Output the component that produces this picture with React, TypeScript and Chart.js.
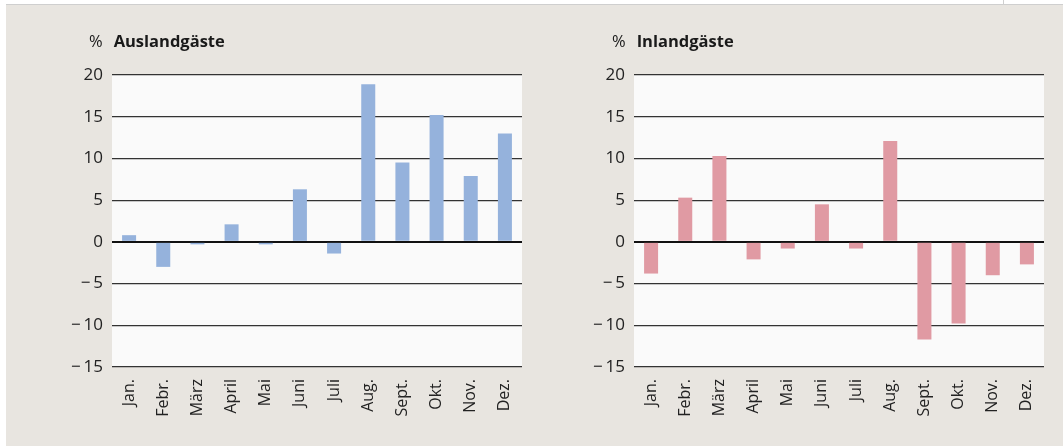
import React, { useEffect, useRef } from "react";
import { Chart, registerables } from "chart.js";

Chart.register(...registerables);

const months = ["Jan.", "Febr.", "März", "April", "Mai", "Juni", "Juli", "Aug.", "Sept.", "Okt.", "Nov.", "Dez."];
const auslandValues = [0.8, -3.0, -0.3, 2.1, -0.3, 6.3, -1.4, 18.9, 9.5, 15.2, 7.9, 13.0];
const inlandValues = [-3.8, 5.3, 10.3, -2.1, -0.8, 4.5, -0.8, 12.1, -11.7, -9.8, -4.0, -2.7];
const yTicks = [-15, -10, -5, 0, 5, 10, 15, 20];

const FONT = "'Open Sans', 'Noto Sans', sans-serif";
const BG = "#E8E5E0";
const PLOT_BG = "#FAFAFA";

const plotBgPlugin = {
  id: "plotBg",
  beforeDraw(chart: any) {
    const { ctx, chartArea } = chart;
    if (!chartArea) return;
    ctx.save();
    ctx.fillStyle = PLOT_BG;
    ctx.fillRect(chartArea.left, chartArea.top, chartArea.right - chartArea.left, chartArea.bottom - chartArea.top);
    ctx.restore();
  },
};

function BarPanel(props: { values: number[]; color: string; yAxisWidth: number; rightPad: number; width: number }) {
  const ref = useRef<HTMLCanvasElement | null>(null);
  useEffect(() => {
    if (!ref.current) return;
    const chart = new Chart(ref.current, {
      type: "bar",
      data: {
        labels: months,
        datasets: [
          {
            data: props.values,
            backgroundColor: props.color,
            borderWidth: 0,
            barPercentage: 0.41,
            categoryPercentage: 1,
          },
        ],
      },
      plugins: [plotBgPlugin],
      options: {
        animation: false,
        responsive: false,
        maintainAspectRatio: false,
        layout: { padding: { top: 75, right: props.rightPad, left: 0, bottom: 0 } },
        plugins: { legend: { display: false }, tooltip: { enabled: false }, title: { display: false } },
        scales: {
          x: {
            grid: { display: false, drawTicks: false },
            border: { display: false },
            ticks: {
              autoSkip: false,
              minRotation: 90,
              maxRotation: 90,
              padding: 12,
              color: "#222",
              font: { family: FONT, size: 16 },
            },
            afterFit(scale: any) {
              scale.height = 80;
            },
          },
          y: {
            min: -15,
            max: 20,
            afterBuildTicks(scale: any) {
              scale.ticks = yTicks.map((v) => ({ value: v }));
            },
            grid: {
              drawTicks: false,
              color: (c: any) => (c.tick && c.tick.value === 0 ? "#111" : "#333"),
              lineWidth: (c: any) => (c.tick && c.tick.value === 0 ? 2 : 1.2),
            },
            border: { display: false },
            ticks: {
              padding: 9,
              color: "#222",
              font: { family: FONT, size: 17 },
              callback: (v: any) => (Number(v) < 0 ? "\u2212\u2009" + Math.abs(Number(v)) : String(v)),
            },
            afterFit(scale: any) {
              scale.width = props.yAxisWidth;
            },
          },
        },
      },
    });
    return () => chart.destroy();
  }, []);
  return <canvas ref={ref} width={props.width} height={447} style={{ display: "block", width: props.width, height: 447 }} />;
}

function Title(props: { left: number; text: string }) {
  return (
    <div
      style={{
        position: "absolute",
        left: props.left,
        top: 33,
        fontFamily: FONT,
        fontSize: 16.5,
        lineHeight: "16px",
        color: "#1a1a1a",
        whiteSpace: "nowrap",
      }}
    >
      <span style={{ marginRight: 11 }}>%</span>
      <span style={{ fontWeight: 700 }}>{props.text}</span>
    </div>
  );
}

export default function App() {
  useEffect(() => {
    document.body.style.margin = "0";
    document.body.style.background = "#fff";
  }, []);
  return (
    <div style={{ position: "relative", width: 1063, height: 447, overflow: "hidden", background: "#fff" }}>
      <div style={{ position: "absolute", left: 1003, top: 0, width: 1, height: 5, background: "#cfcfcf" }} />
      <div
        style={{
          position: "absolute",
          left: 6,
          top: 4,
          right: 0,
          bottom: 1,
          background: BG,
          borderTop: "1px solid #cfcfcf",
        }}
      />
      <div style={{ position: "absolute", left: 0, top: 0 }}>
        <BarPanel values={auslandValues} color="#95B2DC" yAxisWidth={112} rightPad={18} width={540} />
      </div>
      <div style={{ position: "absolute", left: 540, top: 0 }}>
        <BarPanel values={inlandValues} color="#E09AA3" yAxisWidth={94} rightPad={19} width={523} />
      </div>
      <Title left={89} text="Auslandgäste" />
      <Title left={612} text="Inlandgäste" />
    </div>
  );
}
